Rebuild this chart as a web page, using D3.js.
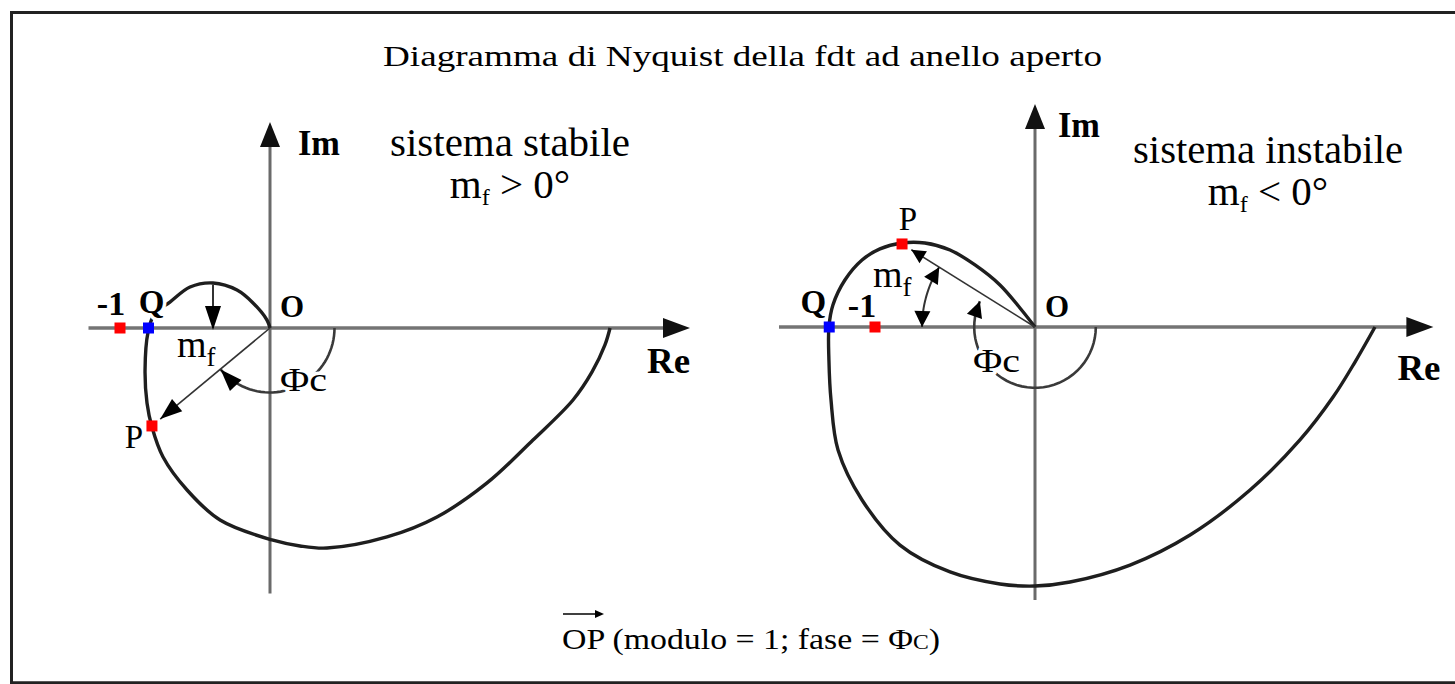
<!DOCTYPE html>
<html>
<head>
<meta charset="utf-8">
<script src="https://cdn.jsdelivr.net/npm/d3@7"></script>
<style>
  body { margin: 0; background: #fff; }
  svg { display: block; }
  text { font-family: "Liberation Serif", "Times New Roman", serif; fill: #000; }
</style>
</head>
<body>
<svg id="chart" width="1455" height="684"></svg>
<script>
// ---------- texts ----------
const titleText = "Diagramma di Nyquist  della fdt ad anello aperto";
const stableCaption = ["sistema stabile", ">"];
const unstableCaption = ["sistema instabile", "<"];
const footVector = "OP";
const footText = " (modulo = 1; fase = \u03A6";

// ---------- stable system: open-loop Nyquist locus (Re, Im), unit = |-1| ----------
const stableLocus = [
  [2.267, 0], [2.233, -0.113], [2.147, -0.293], [2.02, -0.48], [1.753, -0.747],
  [1.447, -1.033], [1.113, -1.26], [0.78, -1.393], [0.38, -1.467], [0.2, -1.453],
  [0.013, -1.413], [-0.333, -1.28], [-0.553, -1.08], [-0.713, -0.86], [-0.787, -0.66],
  [-0.82, -0.5], [-0.833, -0.28], [-0.813, -0.027], [-0.767, 0.1], [-0.667, 0.173],
  [-0.533, 0.273], [-0.38, 0.3], [-0.22, 0.253], [-0.113, 0.167], [-0.02, 0.053], [0, 0]
];
const stableMinusOne = [-1, 0];
const stableQ = [-0.81, 0];
const stableP = [-0.787, -0.653];
const stableReRange = [-1.21, 2.8];
const stableImRange = [-1.77, 1.373];
const stablePhaseArc = [0, -140];      // degrees, Φc
const stableMarginArrow = [-0.38, 0.29, 0]; // Re, Im from, Im to

// ---------- unstable system ----------
const unstableLocus = [
  [2.125, 0], [2.0, -0.219], [1.863, -0.438], [1.656, -0.706], [1.344, -1.019],
  [0.969, -1.3], [0.594, -1.488], [0.219, -1.594], [0, -1.619], [-0.219, -1.606],
  [-0.531, -1.531], [-0.844, -1.363], [-1.081, -1.081], [-1.231, -0.769], [-1.275, -0.456],
  [-1.288, -0.206], [-1.288, 0], [-1.263, 0.138], [-1.188, 0.294], [-1.081, 0.419],
  [-0.969, 0.488], [-0.831, 0.525], [-0.688, 0.525], [-0.531, 0.481], [-0.375, 0.388],
  [-0.219, 0.263], [-0.094, 0.119], [0, 0]
];
const unstableMinusOne = [-1, 0];
const unstableQ = [-1.286, 0];
const unstableP = [-0.831, 0.519];
const unstableReRange = [-1.6, 2.49];
const unstableImRange = [-1.706, 1.394];
const unstablePhaseArc = [0, -205];
const unstableMarginArc = [148, 180];

const svg = d3.select("#chart");

// frame
svg.append("path").attr("d", "M11.5,684 V12.5 H1455")
  .attr("fill", "none").attr("stroke", "#222").attr("stroke-width", 3);
svg.append("line").attr("x1", 10).attr("x2", 1455).attr("y1", 682.8).attr("y2", 682.8)
  .attr("stroke", "#222").attr("stroke-width", 3);

// title
svg.append("text").attr("x", 383).attr("y", 66).attr("font-size", 30)
  .attr("textLength", 719).attr("lengthAdjust", "spacingAndGlyphs").text(titleText);

function arrowHead(g, tip, angle, len, half, fill) {
  const [tx, ty] = tip;
  const c = Math.cos(angle), s = Math.sin(angle);
  const bx = tx - c * len, by = ty - s * len;
  const pts = [[tx, ty], [bx - s * half, by + c * half], [bx + s * half, by - c * half]];
  g.append("path").attr("d", "M" + pts.map(p => p.join(",")).join("L") + "Z").attr("fill", fill);
}

function arcPoints(r, a0, a1) {
  const n = 40;
  return d3.range(n + 1).map(i => {
    const a = (a0 + (a1 - a0) * i / n) * Math.PI / 180;
    return [r * Math.cos(a), r * Math.sin(a)];
  });
}

function halo(sel) {
  return sel.attr("paint-order", "stroke").attr("stroke", "#fff")
    .attr("stroke-width", 7).attr("stroke-linejoin", "round");
}

function drawPanel(p) {
  const x = d3.scaleLinear().domain([0, 1]).range([p.ox, p.ox + p.k]);
  const y = d3.scaleLinear().domain([0, 1]).range([p.oy, p.oy - p.k]);
  const g = svg.append("g");
  const line = d3.line().x(d => x(d[0])).y(d => y(d[1]));

  // axes
  g.append("line").attr("x1", x(p.reRange[0])).attr("x2", x(p.reRange[1]) - 12)
    .attr("y1", y(0)).attr("y2", y(0)).attr("stroke", "#747474").attr("stroke-width", 3.5);
  arrowHead(g, [x(p.reRange[1]), y(0)], 0, 27, 10, "#111");
  g.append("line").attr("x1", x(0)).attr("x2", x(0))
    .attr("y1", y(p.imRange[0])).attr("y2", y(p.imRange[1]) + 12)
    .attr("stroke", "#6a6a6a").attr("stroke-width", 3);
  arrowHead(g, [x(0), y(p.imRange[1])], -Math.PI / 2, 25, 10, "#111");

  // locus
  g.append("path").attr("d", line.curve(d3.curveCatmullRom.alpha(0.5))(p.locus))
    .attr("fill", "none").attr("stroke", "#1e1e1e").attr("stroke-width", 3.4);

  // vector OP
  const f = 0.93;
  const tip = [x(p.P[0] * f), y(p.P[1] * f)];
  g.append("line").attr("x1", x(0)).attr("y1", y(0)).attr("x2", tip[0]).attr("y2", tip[1])
    .attr("stroke", "#333").attr("stroke-width", 1.6);
  arrowHead(g, tip, Math.atan2(tip[1] - y(0), tip[0] - x(0)), p.opHead[0], p.opHead[1], "#000");

  // phase arc Φc
  const ph = arcPoints(p.phaseR, p.phaseArc[0], p.phaseArc[1]);
  g.append("path").attr("d", line.curve(d3.curveLinear)(ph))
    .attr("fill", "none").attr("stroke", "#3a3a3a").attr("stroke-width", 2.6);
  const e1 = ph[ph.length - 1], e0 = ph[ph.length - 3];
  arrowHead(g, [x(e1[0]), y(e1[1])], Math.atan2(y(e1[1]) - y(e0[1]), x(e1[0]) - x(e0[0])),
    p.phaseHead[0], p.phaseHead[1], "#000");

  // phase margin
  if (p.marginArrow) {
    const [re, i0, i1] = p.marginArrow;
    g.append("line").attr("x1", x(re)).attr("x2", x(re)).attr("y1", y(i0)).attr("y2", y(i1))
      .attr("stroke", "#333").attr("stroke-width", 2);
    arrowHead(g, [x(re), y(i1) + 2], Math.PI / 2, 24, 8, "#000");
  }
  if (p.marginArc) {
    const mp = arcPoints(p.marginR, p.marginArc[0], p.marginArc[1]);
    g.append("path").attr("d", line.curve(d3.curveLinear)(mp))
      .attr("fill", "none").attr("stroke", "#333").attr("stroke-width", 2);
    const a = mp[0], b = mp[3], c = mp[mp.length - 1], d = mp[mp.length - 4];
    arrowHead(g, [x(a[0]), y(a[1])], Math.atan2(y(a[1]) - y(b[1]), x(a[0]) - x(b[0])), 16, 8, "#000");
    arrowHead(g, [x(c[0]), y(c[1])], Math.atan2(y(c[1]) - y(d[1]), x(c[0]) - x(d[0])), 16, 8, "#000");
  }

  // markers -1, Q, P
  const sq = 11;
  [[p.minusOne, "#ff0000"], [p.Q, "#0000ff"], [p.P, "#ff0000"]].forEach(([pt, col]) => {
    g.append("rect").attr("x", x(pt[0]) - sq / 2).attr("y", y(pt[1]) - sq / 2)
      .attr("width", sq).attr("height", sq).attr("fill", col);
  });

  // labels
  const L = p.labels;
  g.append("text").attr("x", x(p.minusOne[0]) + L.m1[0]).attr("y", y(0) + L.m1[1])
    .attr("text-anchor", "middle").attr("font-size", 34).attr("font-weight", "bold").text("-1");
  const q = g.append("text").attr("x", x(p.Q[0]) + L.q[0]).attr("y", y(0) + L.q[1])
    .attr("text-anchor", "middle").attr("font-size", 33).attr("font-weight", "bold").text("Q");
  if (p.qHalo) halo(q);
  g.append("text").attr("x", x(0) + L.o[0]).attr("y", y(0) + L.o[1])
    .attr("text-anchor", "middle").attr("font-size", 31).attr("font-weight", "bold").text("O");
  g.append("text").attr("x", x(p.P[0]) + L.p[0]).attr("y", y(p.P[1]) + L.p[1])
    .attr("text-anchor", "middle").attr("font-size", 33).text("P");
  g.append("text").attr("x", x(0) + L.im[0]).attr("y", y(p.imRange[1]) + L.im[1])
    .attr("font-size", 36).attr("font-weight", "bold")
    .attr("textLength", 42).attr("lengthAdjust", "spacingAndGlyphs").text("Im");
  g.append("text").attr("x", x(p.reRange[1]) + L.re[0]).attr("y", y(0) + L.re[1])
    .attr("font-size", 35).attr("font-weight", "bold")
    .attr("textLength", 43).attr("lengthAdjust", "spacingAndGlyphs").text("Re");
  const mf = g.append("text").attr("x", x(0) + L.mf[0]).attr("y", y(0) + L.mf[1]).attr("font-size", 38);
  mf.append("tspan").text("m");
  mf.append("tspan").attr("font-size", 27).attr("dy", 9).text("f");
  const phi = g.append("text").attr("x", x(0) + L.phi[0]).attr("y", y(0) + L.phi[1])
    .attr("font-size", 34).attr("textLength", 47).attr("lengthAdjust", "spacingAndGlyphs").text("\u03A6c");
  halo(phi);

  // caption
  g.append("text").attr("x", p.caption[0]).attr("y", p.caption[1]).attr("text-anchor", "middle")
    .attr("font-size", 41).attr("textLength", p.caption[2]).attr("lengthAdjust", "spacingAndGlyphs")
    .text(p.captionText[0]);
  const c2 = g.append("text").attr("x", p.caption[0]).attr("y", p.caption[1] + 42)
    .attr("text-anchor", "middle").attr("font-size", 41);
  c2.append("tspan").text("m");
  c2.append("tspan").attr("font-size", 24).attr("dy", 7).text("f");
  c2.append("tspan").attr("dy", -7).text(" " + p.captionText[1] + " 0\u00B0");
}

drawPanel({
  ox: 270, oy: 328, k: 150,
  locus: stableLocus, minusOne: stableMinusOne, Q: stableQ, P: stableP,
  reRange: stableReRange, imRange: stableImRange,
  phaseArc: stablePhaseArc, phaseR: 0.43, phaseHead: [22, 8],
  marginArrow: stableMarginArrow, opHead: [22, 8], qHalo: true,
  labels: { m1: [-9, -13], q: [3, -15], o: [22, -11], p: [-18, 22], im: [28, 33], re: [-43, 45],
            mf: [-93, 29], phi: [10, 63] },
  caption: [510, 156, 240], captionText: stableCaption
});

drawPanel({
  ox: 1035, oy: 327, k: 160,
  locus: unstableLocus, minusOne: unstableMinusOne, Q: unstableQ, P: unstableP,
  reRange: unstableReRange, imRange: unstableImRange,
  phaseArc: unstablePhaseArc, phaseR: 0.38, phaseHead: [16, 8],
  marginArc: unstableMarginArc, marginR: 0.706, opHead: [14, 7], qHalo: false,
  labels: { m1: [-13, -10], q: [-16, -14], o: [22, -10], p: [6, -14], im: [23, 33], re: [-36, 53],
            mf: [-162, -40], phi: [-62, 45] },
  caption: [1268, 163, 270], captionText: unstableCaption
});

// footnote: vector OP (modulo = 1; fase = Φc)
const foot = svg.append("text").attr("x", 562).attr("y", 649).attr("font-size", 30)
  .attr("textLength", 378).attr("lengthAdjust", "spacingAndGlyphs");
foot.append("tspan").text(footVector);
foot.append("tspan").text(footText);
foot.append("tspan").attr("font-size", 21).text("C");
foot.append("tspan").text(")");
const vecW = foot.node().getSubStringLength(0, 2);
svg.append("line").attr("x1", 563).attr("x2", 562 + vecW - 6).attr("y1", 614).attr("y2", 614)
  .attr("stroke", "#000").attr("stroke-width", 1.5);
arrowHead(svg, [562 + vecW, 614], 0, 9, 4, "#000");
</script>
</body>
</html>
